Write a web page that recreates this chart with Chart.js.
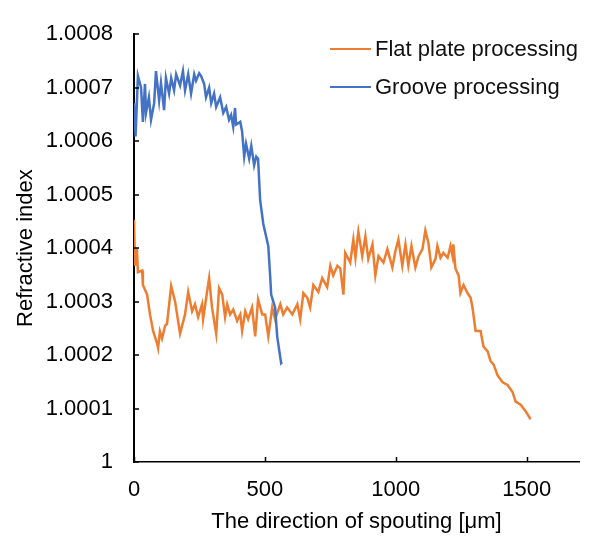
<!DOCTYPE html>
<html>
<head>
<meta charset="utf-8">
<script src="https://cdn.jsdelivr.net/npm/chart.js@4/dist/chart.umd.min.js"></script>
<style>
  body { margin: 0; background: #fff; }
  #wrap { width: 595px; height: 536px; }
</style>
</head>
<body>
<div id="wrap"><canvas id="refraction-chart" width="595" height="536"></canvas></div>
<script>
var seriesNames = ['Flat plate processing', 'Groove processing'];
var seriesColors = ['#ED7D31', '#4472C4'];

// flat plate processing, position [um] / refractive index
var flatX = [0, 4, 11, 15, 31, 34, 50, 61, 73, 88, 92, 99, 107, 119, 126, 142, 157, 176, 195, 207,
  222, 233, 245, 260, 264, 279, 287, 298, 314, 325, 337, 348, 356, 367, 379, 394, 406, 413, 425, 436,
  451, 463, 474, 490, 501, 513, 528, 539, 559, 570, 585, 605, 624, 635, 647, 662, 673, 685, 704, 719,
  738, 750, 761, 777, 788, 800, 807, 819, 826, 838, 846, 857, 872, 884, 895, 911, 922, 934, 953, 968,
  987, 999, 1010, 1025, 1037, 1048, 1060, 1075, 1087, 1102, 1113, 1125, 1136, 1152, 1159, 1171, 1182, 1198, 1209, 1217,
  1220, 1228, 1240, 1247, 1259, 1274, 1286, 1293, 1305, 1324, 1335, 1351, 1362, 1374, 1389, 1408, 1427, 1446, 1458, 1477,
  1496, 1515];
var flatY = [1.000453, 1.000367, 1.000400, 1.000355, 1.000358, 1.000331, 1.000313, 1.000276, 1.000245, 1.000222,
  1.000213, 1.000244, 1.000231, 1.000255, 1.000258, 1.000329, 1.000300, 1.000240, 1.000276, 1.000318,
  1.000282, 1.000295, 1.000271, 1.000295, 1.000267, 1.000318, 1.000344, 1.000289, 1.000240, 1.000325,
  1.000313, 1.000271, 1.000295, 1.000276, 1.000285, 1.000264, 1.000276, 1.000245, 1.000282, 1.000267,
  1.000289, 1.000235, 1.000304, 1.000276, 1.000276, 1.000235, 1.000289, 1.000267, 1.000295, 1.000276,
  1.000289, 1.000276, 1.000295, 1.000267, 1.000316, 1.000307, 1.000289, 1.000331, 1.000318, 1.000344,
  1.000327, 1.000367, 1.000349, 1.000367, 1.000362, 1.000313, 1.000391, 1.000380, 1.000373, 1.000416,
  1.000382, 1.000431, 1.000385, 1.000422, 1.000380, 1.000407, 1.000349, 1.000385, 1.000373, 1.000398,
  1.000364, 1.000395, 1.000416, 1.000367, 1.000407, 1.000367, 1.000404, 1.000364, 1.000385, 1.000398,
  1.000433, 1.000409, 1.000364, 1.000380, 1.000404, 1.000382, 1.000391, 1.000382, 1.000404, 1.000385,
  1.000407, 1.000362, 1.000349, 1.000316, 1.000331, 1.000316, 1.000307, 1.000289, 1.000245, 1.000245,
  1.000216, 1.000207, 1.000189, 1.000182, 1.000162, 1.000149, 1.000144, 1.000131, 1.000113, 1.000107,
  1.000095, 1.000080];

// groove processing
var grooveX = [0, 6, 15, 27, 34, 42, 46, 57, 65, 77, 84, 96, 103, 115, 122, 134, 142, 153, 161, 176,
  187, 195, 207, 218, 230, 237, 249, 256, 268, 275, 287, 295, 306, 314, 329, 341, 352, 363, 371, 379,
  386, 390, 406, 413, 421, 428, 440, 448, 459, 467, 474, 482, 494, 513, 520, 524, 539, 547, 562, 566];
var grooveY = [1.000671, 1.000609, 1.000722, 1.000700, 1.000636, 1.000707, 1.000653, 1.000682, 1.000640, 1.000671,
  1.000731, 1.000676, 1.000709, 1.000658, 1.000718, 1.000689, 1.000718, 1.000695, 1.000725, 1.000704,
  1.000731, 1.000695, 1.000725, 1.000689, 1.000725, 1.000713, 1.000727, 1.000722, 1.000707, 1.000682,
  1.000700, 1.000671, 1.000689, 1.000664, 1.000682, 1.000653, 1.000664, 1.000640, 1.000649, 1.000627,
  1.000662, 1.000631, 1.000636, 1.000618, 1.000571, 1.000595, 1.000567, 1.000591, 1.000555, 1.000571,
  1.000567, 1.000489, 1.000445, 1.000404, 1.000349, 1.000313, 1.000289, 1.000235, 1.000185, 1.000187];

var xTicks = [0, 500, 1000, 1500];
var yTicks = [1, 1.0001, 1.0002, 1.0003, 1.0004, 1.0005, 1.0006, 1.0007, 1.0008];

var FONT = 'Liberation Sans, Arial, sans-serif';
var FSIZE = 22;

function toPoints(xs, ys) {
  return xs.map(function(x, i) { return { x: x, y: ys[i] }; });
}

// Excel style: short tick marks pointing into the plot
var innerTicks = {
  id: 'innerTicks',
  afterDraw: function(chart) {
    var ctx = chart.ctx, a = chart.chartArea;
    var xs = chart.scales.x, ys = chart.scales.y;
    ctx.save();
    ctx.strokeStyle = '#000';
    ctx.lineWidth = 1.5;
    ctx.beginPath();
    xTicks.forEach(function(v) {
      var p = Math.round(xs.getPixelForValue(v)) + 0.5;
      ctx.moveTo(p, a.bottom);
      ctx.lineTo(p, a.bottom - 5);
    });
    yTicks.forEach(function(v) {
      var p = Math.round(ys.getPixelForValue(v));
      ctx.moveTo(a.left, p);
      ctx.lineTo(a.left + 5, p);
    });
    ctx.stroke();
    ctx.restore();
  }
};

// legend inside the plot, top right
var sideLegend = {
  id: 'sideLegend',
  afterDraw: function(chart) {
    var ctx = chart.ctx;
    ctx.save();
    ctx.font = FSIZE + 'px ' + FONT;
    ctx.textBaseline = 'middle';
    chart.data.datasets.forEach(function(ds, i) {
      var y = 49 + i * 38;
      ctx.strokeStyle = ds.borderColor;
      ctx.lineWidth = 2;
      ctx.beginPath();
      ctx.moveTo(330, y);
      ctx.lineTo(371, y);
      ctx.stroke();
      ctx.fillStyle = '#111';
      ctx.fillText(ds.label, 375, y + 1);
    });
    ctx.restore();
  }
};

document.addEventListener('DOMContentLoaded', function() {
  var ctx = document.getElementById('refraction-chart').getContext('2d');
  new Chart(ctx, {
    type: 'line',
    data: {
      datasets: [
        { label: seriesNames[0], data: toPoints(flatX, flatY), borderColor: seriesColors[0], order: 2 },
        { label: seriesNames[1], data: toPoints(grooveX, grooveY), borderColor: seriesColors[1], order: 1 }
      ]
    },
    options: {
      responsive: false,
      animation: false,
      devicePixelRatio: 1,
      layout: { padding: { left: 0, top: 22, right: 16, bottom: 0 } },
      elements: {
        line: { borderWidth: 2.5, tension: 0, fill: false },
        point: { radius: 0 }
      },
      plugins: {
        legend: { display: false },
        tooltip: { enabled: false }
      },
      scales: {
        x: {
          type: 'linear',
          min: 0, max: 1700,
          afterFit: function(s) { s.height = 74; },
          afterBuildTicks: function(s) { s.ticks = xTicks.map(function(v) { return { value: v }; }); },
          grid: { display: false, drawTicks: false },
          border: { display: true, color: '#000', width: 1.5 },
          ticks: {
            padding: 15, color: '#000', maxRotation: 0,
            font: { family: FONT, size: FSIZE },
            callback: function(v) { return String(v); }
          },
          title: {
            display: true, text: 'The direction of spouting [μm]', color: '#000',
            font: { family: FONT, size: FSIZE }, padding: { top: 0, bottom: 1 }
          }
        },
        y: {
          min: 1, max: 1.0008,
          afterFit: function(s) { s.width = 134; },
          afterBuildTicks: function(s) { s.ticks = yTicks.map(function(v) { return { value: v }; }); },
          grid: { display: false, drawTicks: false },
          border: { display: true, color: '#000', width: 2 },
          ticks: {
            padding: 21, color: '#000',
            font: { family: FONT, size: FSIZE },
            callback: function(v) { return String(parseFloat(v.toFixed(4))); }
          },
          title: {
            display: true, text: 'Refractive index', color: '#000',
            font: { family: FONT, size: FSIZE }, padding: { top: 13, bottom: 0 }
          }
        }
      }
    },
    plugins: [innerTicks, sideLegend]
  });
});
</script>
</body>
</html>
